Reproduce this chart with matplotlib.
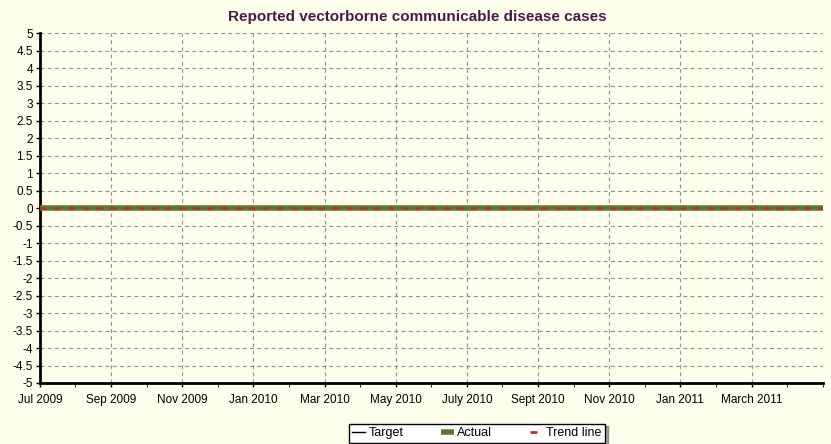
import matplotlib
matplotlib.use("Agg")
import matplotlib.pyplot as plt
import numpy as np

plt.rcParams['font.family'] = ['Liberation Sans', 'DejaVu Sans']

months = ["Jul 2009", "Aug 2009", "Sep 2009", "Oct 2009", "Nov 2009", "Dec 2009",
          "Jan 2010", "Feb 2010", "Mar 2010", "Apr 2010", "May 2010", "Jun 2010",
          "Jul 2010", "Aug 2010", "Sep 2010", "Oct 2010", "Nov 2010", "Dec 2010",
          "Jan 2011", "Feb 2011", "Mar 2011", "Apr 2011", "May 2011"]
actual = [0] * 23
trend = [0] * 23
target = [0] * 23
tick_labels = ["Jul 2009", "Sep 2009", "Nov 2009", "Jan 2010", "Mar 2010", "May 2010",
               "July 2010", "Sept 2010", "Nov 2010", "Jan 2011", "March 2011"]
y_ticks = [-5, -4.5, -4, -3.5, -3, -2.5, -2, -1.5, -1, -0.5, 0, 0.5, 1, 1.5, 2, 2.5, 3, 3.5, 4, 4.5, 5]

bg = '#FEFEEC'
fig = plt.figure(figsize=(8.31, 4.44), dpi=100, facecolor=bg)
ax = fig.add_axes([0.048, 0.1374, 0.942, 0.788], facecolor=bg)

x = np.arange(len(months))
ax.plot(x, target, color='black', lw=1, label='Target', zorder=3)
ax.plot(x, actual, color='#5A7A3A', lw=4, label='Actual', zorder=4, solid_capstyle='butt')
ax.plot(x, trend, color='#C0302A', lw=2, ls=(0, (2.5, 2.5)), label='Trend line', zorder=5)

ax.set_xlim(0, 22)
ax.set_ylim(-5, 5)
ax.set_yticks(y_ticks)
ax.set_yticklabels([('%g' % v) for v in y_ticks])
ax.set_xticks(x[::2][:len(tick_labels)])
ax.set_xticklabels(tick_labels)
ax.set_xticks(x, minor=True)

ax.grid(True, which='major', color='#909090', ls=(0, (3.5, 3)), lw=0.8)
for s in ['top', 'right']:
    ax.spines[s].set_visible(False)
for s in ['left', 'bottom']:
    ax.spines[s].set_linewidth(2)
    ax.spines[s].set_color('black')
ax.tick_params(axis='both', labelsize=8.5, colors='black', length=3, width=1, pad=2)
ax.tick_params(axis='x', which='both', length=3, pad=5)
ax.tick_params(axis='x', which='minor', length=3)

fig.text(0.502, 0.962, 'Reported vectorborne communicable disease cases', fontsize=11,
         fontweight='bold', color='#4A1A4A', ha='center', va='center')

leg = fig.legend(loc='lower center', bbox_to_anchor=(0.574, -0.012), ncol=3,
                 fontsize=9, frameon=True, fancybox=False, shadow=True,
                 handlelength=1.0, handletextpad=0.3, columnspacing=3.0,
                 borderpad=0.3, facecolor='white', edgecolor='black')
leg.get_frame().set_linewidth(1)

fig.savefig('out.png', dpi=100, facecolor=bg)
